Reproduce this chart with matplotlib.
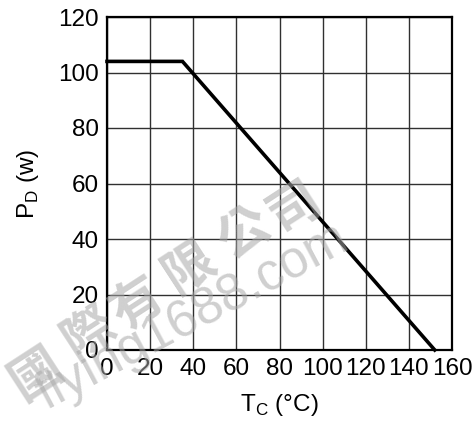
import matplotlib
matplotlib.use("Agg")
import matplotlib.pyplot as plt

# Data
tc = [0, 35, 152]
pd_w = [104, 104, 0]
x_ticks = [0, 20, 40, 60, 80, 100, 120, 140, 160]
y_ticks = [0, 20, 40, 60, 80, 100, 120]
wm_chars = ["國", "際", "有", "限", "公", "司"]
wm_url = "flying1688.com"

plt.rcParams['font.family'] = ['Liberation Sans', 'DejaVu Sans']
plt.rcParams['mathtext.fontset'] = 'custom'
plt.rcParams['mathtext.rm'] = 'Liberation Sans'

W, H = 476, 421
fig = plt.figure(figsize=(W / 100, H / 100), dpi=100)
ax = fig.add_axes([107 / W, 1 - 350 / H, 345 / W, 333 / H])

ax.plot(tc, pd_w, color='black', lw=2.6, solid_joinstyle='miter', zorder=3, clip_on=False)

ax.set_xlim(0, 160)
ax.set_ylim(0, 120)
ax.set_xticks(x_ticks)
ax.set_yticks(y_ticks)
ax.tick_params(length=0, labelsize=17.5, pad=6, colors='black')
ax.grid(True, color='#303030', lw=1.0)
ax.set_axisbelow(True)
for s in ax.spines.values():
    s.set_linewidth(1.6)
    s.set_color('black')

ax.set_xlabel(r'T$_\mathregular{C}$ (°C)', fontsize=17.5)
ax.set_ylabel(r'P$_\mathregular{D}$ (w)', fontsize=17.5)
ax.xaxis.set_label_coords(0.50, -0.125)
ax.yaxis.set_label_coords(-0.19, 0.5)

# Watermark
wm_pos = [(36, 374), (89, 333), (137, 304), (189, 267), (244, 233), (294, 207)]
for ch, (px, py) in zip(wm_chars, wm_pos):
    fig.text(px / W, 1 - py / H, ch, fontsize=37, rotation=33,
             family=['Noto Sans CJK TC', 'DejaVu Sans'], fontweight='bold',
             color='#a8a8a8', alpha=0.55, ha='center', va='center', zorder=10)
fig.text(192 / W, 1 - 317 / H, wm_url, fontsize=37, rotation=28,
         color='#a8a8a8', alpha=0.55, ha='center', va='center', zorder=10)

fig.savefig('out.png', dpi=100)
